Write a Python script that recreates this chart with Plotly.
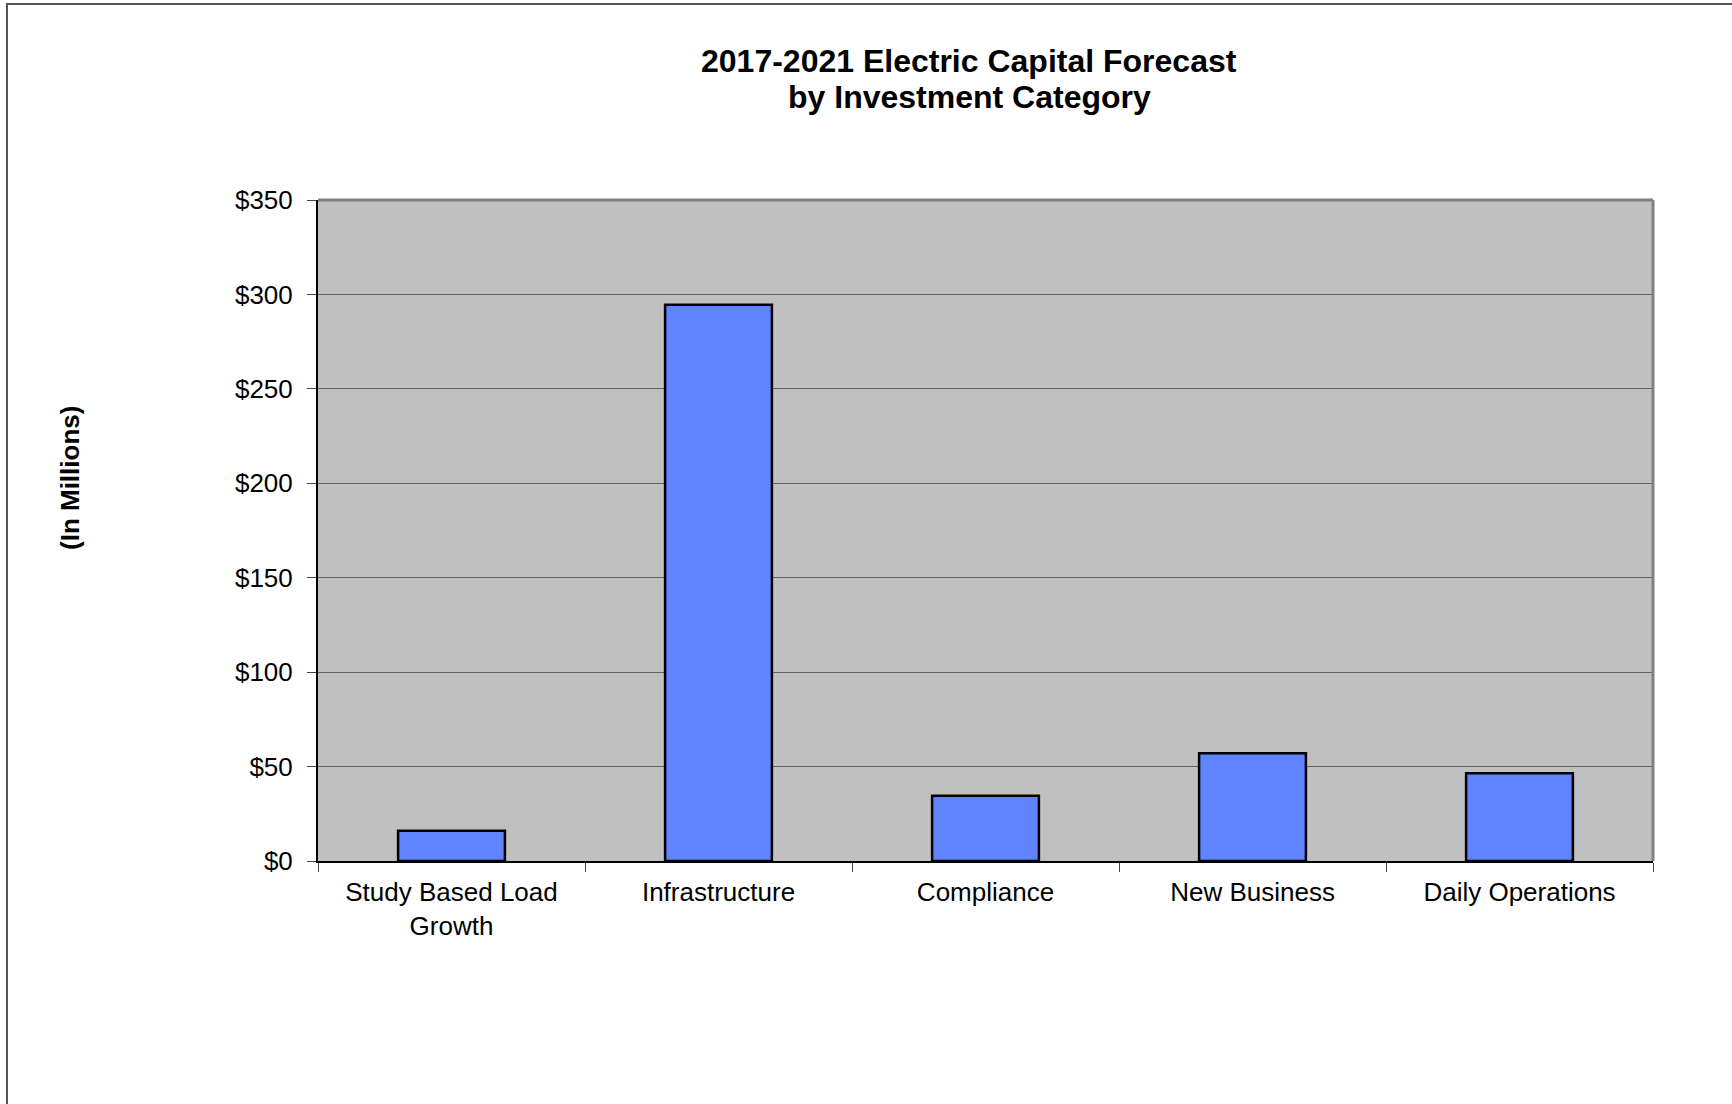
import plotly.graph_objects as go

categories = ["Study Based Load<br>Growth", "Infrastructure", "Compliance", "New Business", "Daily Operations"]
values = [16, 294.5, 34.5, 57, 46.5]
y_tick_values = [0, 50, 100, 150, 200, 250, 300, 350]
y_tick_labels = ["$0", "$50", "$100", "$150", "$200", "$250", "$300", "$350"]
title_lines = ["2017-2021 Electric Capital Forecast", "by Investment Category"]
y_title = "(In Millions)"

W, H = 1732, 1104
L, T = 318, 200
R = W - 1653
B = H - 861
pw, ph = W - L - R, H - T - B

def px_x(px):
    return (px - L) / pw

def px_y(py):
    return (H - B - py) / ph

FONT = "Liberation Sans, Arial, sans-serif"

fig = go.Figure()
fig.add_trace(go.Bar(
    x=categories, y=values, width=0.4,
    marker=dict(color="#6083FF", line=dict(color="#000000", width=2.5)),
))

fig.update_layout(
    width=W, height=H,
    margin=dict(l=L, r=R, t=T, b=B),
    paper_bgcolor="white", plot_bgcolor="#C0C0C0",
    showlegend=False,
    font=dict(family=FONT, color="black", size=26),
    bargap=0.6,
)
fig.update_xaxes(
    type="category", showline=True, linecolor="black", linewidth=2,
    ticks="outside", tickson="boundaries", ticklen=9, tickcolor="#444", tickwidth=1,
    showgrid=False, tickfont=dict(size=26, family=FONT), ticklabelstandoff=7,
)
fig.update_yaxes(
    range=[0, 350], tickvals=y_tick_values, ticktext=y_tick_labels,
    showline=True, linecolor="black", linewidth=2,
    ticks="outside", ticklen=9, tickcolor="#444", tickwidth=1,
    showgrid=True, gridcolor="#626262", gridwidth=1, zeroline=False,
    tickfont=dict(size=26, family=FONT), ticklabelstandoff=9,
)

# plot-area top and right border (gray)
fig.add_shape(type="line", xref="paper", yref="paper", x0=0, x1=1, y0=1, y1=1,
              line=dict(color="#808080", width=3), layer="above")
fig.add_shape(type="line", xref="paper", yref="paper", x0=1, x1=1, y0=0, y1=1,
              line=dict(color="#808080", width=3), layer="above")
# outer chart border (right and bottom edges fall outside the page)
fig.add_shape(type="rect", xref="paper", yref="paper",
              x0=px_x(7), x1=px_x(1800), y0=px_y(1160), y1=px_y(4),
              line=dict(color="#555555", width=2), layer="above")

fig.add_annotation(text="<b>%s</b>" % title_lines[0], xref="paper", yref="paper",
                   x=px_x(969), y=px_y(61), showarrow=False,
                   font=dict(size=32, family=FONT), xanchor="center", yanchor="middle")
fig.add_annotation(text="<b>%s</b>" % title_lines[1], xref="paper", yref="paper",
                   x=px_x(969), y=px_y(97), showarrow=False,
                   font=dict(size=32, family=FONT), xanchor="center", yanchor="middle")
fig.add_annotation(text="<b>%s</b>" % y_title, xref="paper", yref="paper",
                   x=px_x(70), y=px_y(478), showarrow=False, textangle=-90,
                   font=dict(size=26, family=FONT), xanchor="center", yanchor="middle")

fig.write_html("out.html", config={"displayModeBar": False},
               post_script="document.body.style.margin='0';")
